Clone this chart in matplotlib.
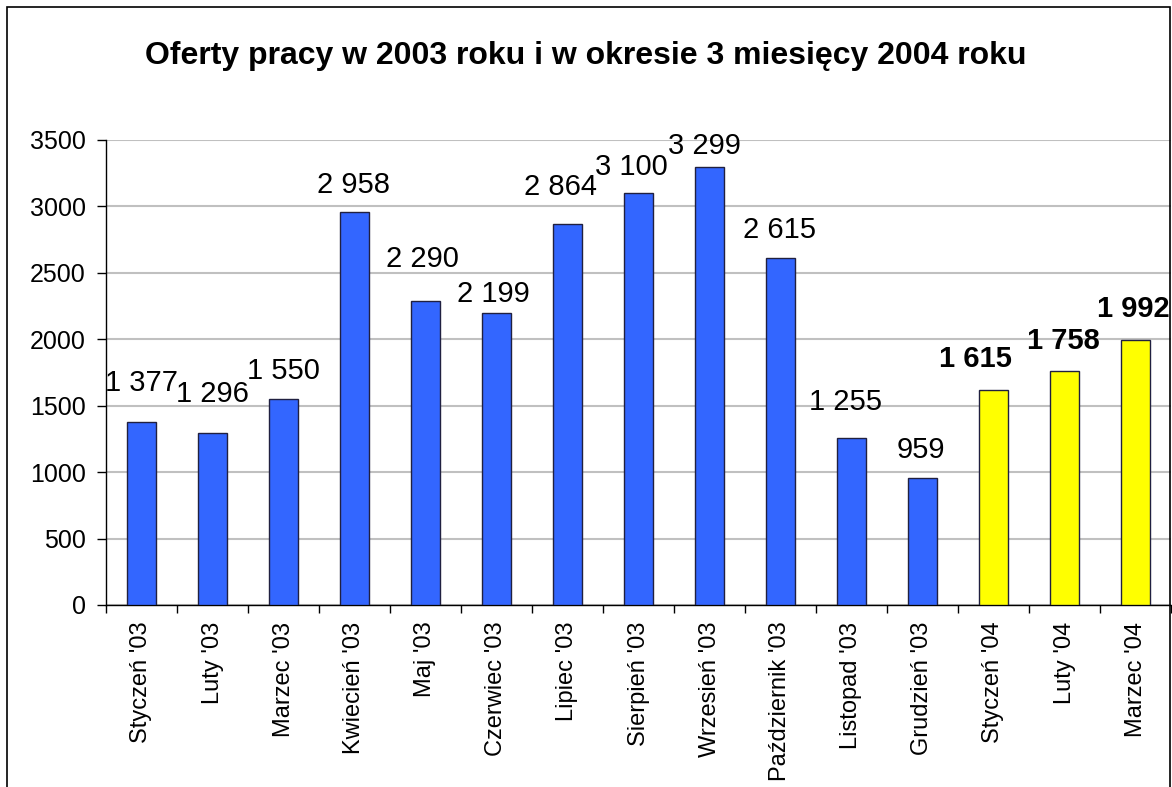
import numpy as np
import matplotlib
matplotlib.use("Agg")
import matplotlib.pyplot as plt
from matplotlib.patches import Rectangle

plt.rcParams["font.family"] = ["Liberation Sans", "DejaVu Sans"]

# data
months = ["Styczeń '03", "Luty '03", "Marzec '03", "Kwiecień '03", "Maj '03",
          "Czerwiec '03", "Lipiec '03", "Sierpień '03", "Wrzesień '03",
          "Październik '03", "Listopad '03", "Grudzień '03",
          "Styczeń '04", "Luty '04", "Marzec '04"]
offers = [1377, 1296, 1550, 2958, 2290, 2199, 2864, 3100, 3299, 2615,
          1255, 959, 1615, 1758, 1992]
is_2004 = [False] * 12 + [True] * 3
value_labels = ["1 377", "1 296", "1 550", "2 958", "2 290", "2 199", "2 864",
                "3 100", "3 299", "2 615", "1 255", "959", "1 615", "1 758",
                "1 992"]
title = "Oferty pracy w 2003 roku i w okresie 3 miesięcy 2004 roku"

# label nudges in pixels (dx, gap above bar), as placed in the original
label_dx = [0, 0, 0, -1, -3, -3, -7, -7, -5, -1, -6, -2, -18, -1, -2]
label_gap = [31, 31, 20, 19, 34, 11, 29, 18, 13, 20, 28, 20, 23, 22, 23]

W, H = 1172, 787
fig = plt.figure(figsize=(W / 100, H / 100), dpi=100)
ax = fig.add_axes([106 / W, 1 - 605 / H, (1171 - 106) / W, (605 - 140) / H])

x = np.arange(len(months))
colors = ["#FFFF00" if y4 else "#3366FF" for y4 in is_2004]
ax.bar(x, offers, width=0.4, color=colors, edgecolor="#202040",
       linewidth=1.0, zorder=3)

ax.set_xlim(-0.5, len(months) - 0.5)
ax.set_ylim(0, 3500)
ax.set_yticks(np.arange(0, 3501, 500))
ax.yaxis.grid(True, color="#C0C0C0", linewidth=1.5, zorder=0)
ax.set_axisbelow(True)
ax.tick_params(axis="y", labelsize=18, length=6.5, width=1, pad=8)

ax.set_xticks(x)
ax.set_xticklabels(months, rotation=90, fontsize=17, va="top")
ax.tick_params(axis="x", which="major", length=0, pad=12)
ax.set_xticks(np.arange(-0.5, len(months), 1), minor=True)
ax.tick_params(axis="x", which="minor", length=6, width=1)

for s in ["top", "right"]:
    ax.spines[s].set_visible(False)
ax.spines["left"].set_linewidth(1)
ax.spines["bottom"].set_linewidth(1)

for i, (v, lab) in enumerate(zip(offers, value_labels)):
    ax.annotate(lab, (x[i], v), xytext=(label_dx[i], label_gap[i]),
                textcoords="offset pixels", ha="center", va="baseline",
                fontsize=21, fontweight="bold" if is_2004[i] else "normal",
                zorder=4)

fig.text(0.5, 1 - 56 / H, title, ha="center", va="center",
         fontsize=23, fontweight="bold")

fig.patches.append(Rectangle((7 / W, -0.02), (1170 - 7) / W, 1 - 7 / H + 0.02,
                             transform=fig.transFigure, fill=False,
                             edgecolor="black", linewidth=1.2))

fig.savefig("out.png", dpi=100)
